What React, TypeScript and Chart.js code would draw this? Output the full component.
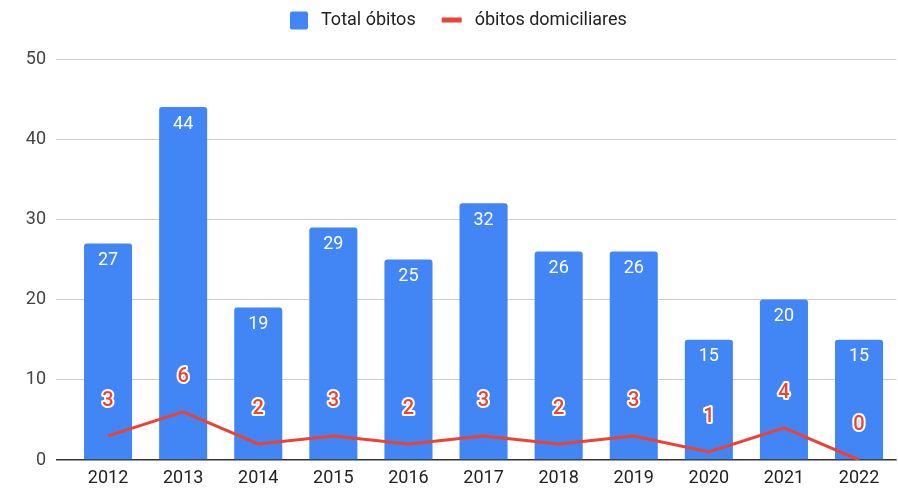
import React, { useEffect, useRef } from "react";
import { Chart, registerables } from "chart.js";

Chart.register(...registerables);

const categories = ["2012", "2013", "2014", "2015", "2016", "2017", "2018", "2019", "2020", "2021", "2022"];
const totalObitos = [27, 44, 19, 29, 25, 32, 26, 26, 15, 20, 15];
const obitosDomiciliares = [3, 6, 2, 3, 2, 3, 2, 3, 1, 4, 0];
const seriesNames = ["Total óbitos", "óbitos domiciliares"];
const yTicks = [0, 10, 20, 30, 40, 50];

const BLUE = "#4285F4";
const RED = "#EA4335";
const FONT = "Roboto, Arial, sans-serif";

const labelsPlugin = {
  id: "valueLabels",
  afterDatasetsDraw(chart: any) {
    const ctx = chart.ctx;
    ctx.save();
    chart.data.datasets.forEach((ds: any, di: number) => {
      const meta = chart.getDatasetMeta(di);
      meta.data.forEach((el: any, i: number) => {
        const v = ds.data[i];
        ctx.textAlign = "center";
        ctx.textBaseline = "middle";
        if (ds.type === "line") {
          ctx.font = `500 20px ${FONT}`;
          ctx.lineJoin = "round";
          ctx.lineWidth = 4;
          ctx.strokeStyle = "#ffffff";
          ctx.strokeText(String(v), el.x, el.y - 35);
          ctx.fillStyle = RED;
          ctx.fillText(String(v), el.x, el.y - 35);
        } else {
          ctx.font = `18px ${FONT}`;
          ctx.fillStyle = "#ffffff";
          ctx.fillText(String(v), el.x, el.y + 17);
        }
      });
    });
    ctx.restore();
  },
};

const legendPlugin = {
  id: "customLegend",
  afterDraw(chart: any) {
    const ctx = chart.ctx;
    ctx.save();
    ctx.font = `18px ${FONT}`;
    ctx.textBaseline = "middle";
    ctx.textAlign = "left";
    const cy = 20.5;
    const t1 = ctx.measureText(seriesNames[0]).width;
    let x = 290;
    ctx.fillStyle = BLUE;
    ctx.beginPath();
    (ctx as any).roundRect(x, cy - 9, 18, 18, 2);
    ctx.fill();
    x += 18 + 13;
    ctx.fillStyle = "#222222";
    ctx.fillText(seriesNames[0], x, cy);
    x += t1 + 26;
    ctx.fillStyle = RED;
    ctx.fillRect(x, cy - 3, 20, 5);
    x += 20 + 13;
    ctx.fillStyle = "#222222";
    ctx.fillText(seriesNames[1], x, cy);
    ctx.restore();
  },
};

export default function App() {
  const ref = useRef<HTMLCanvasElement>(null);
  useEffect(() => {
    document.body.style.margin = "0";
    const chart = new Chart(ref.current as HTMLCanvasElement, {
      type: "bar",
      data: {
        labels: categories,
        datasets: [
          {
            type: "line" as any,
            label: seriesNames[1],
            data: obitosDomiciliares,
            borderColor: RED,
            backgroundColor: RED,
            borderWidth: 3,
            pointRadius: 0,
            tension: 0,
            order: 0,
          } as any,
          {
            type: "bar" as any,
            label: seriesNames[0],
            data: totalObitos,
            backgroundColor: BLUE,
            borderRadius: 3,
            borderSkipped: "start",
            categoryPercentage: 1,
            barPercentage: 0.64,
            order: 1,
          } as any,
        ],
      },
      plugins: [labelsPlugin, legendPlugin],
      options: {
        animation: false,
        responsive: true,
        maintainAspectRatio: false,
        layout: { padding: { top: 59, right: 1.4, left: 0, bottom: 0 } },
        plugins: {
          legend: { display: false },
          tooltip: { enabled: false },
        },
        scales: {
          x: {
            grid: { display: false, drawTicks: false },
            border: { display: false },
            ticks: { color: "#222222", font: { family: FONT, size: 18 }, padding: 8, maxRotation: 0 },
            afterFit(scale: any) {
              scale.height = 28;
            },
          },
          y: {
            min: 0,
            max: 50,
            afterBuildTicks(scale: any) {
              scale.ticks = yTicks.map((v) => ({ value: v }));
            },
            grid: {
              color: (c: any) => (c.tick && c.tick.value === 0 ? "#333333" : "#cccccc"),
              lineWidth: (c: any) => (c.tick && c.tick.value === 0 ? 1.5 : 1),
              tickLength: 14.5,
              drawTicks: true,
            },
            border: { display: false },
            ticks: { color: "#444444", font: { family: FONT, size: 18 }, padding: 10 },
            afterFit(scale: any) {
              scale.width = 70.5;
            },
          },
        },
      },
    });
    return () => chart.destroy();
  }, []);
  return (
    <div style={{ position: "absolute", left: 0, top: 0, width: 898, height: 488 }}>
      <canvas ref={ref} />
    </div>
  );
}
